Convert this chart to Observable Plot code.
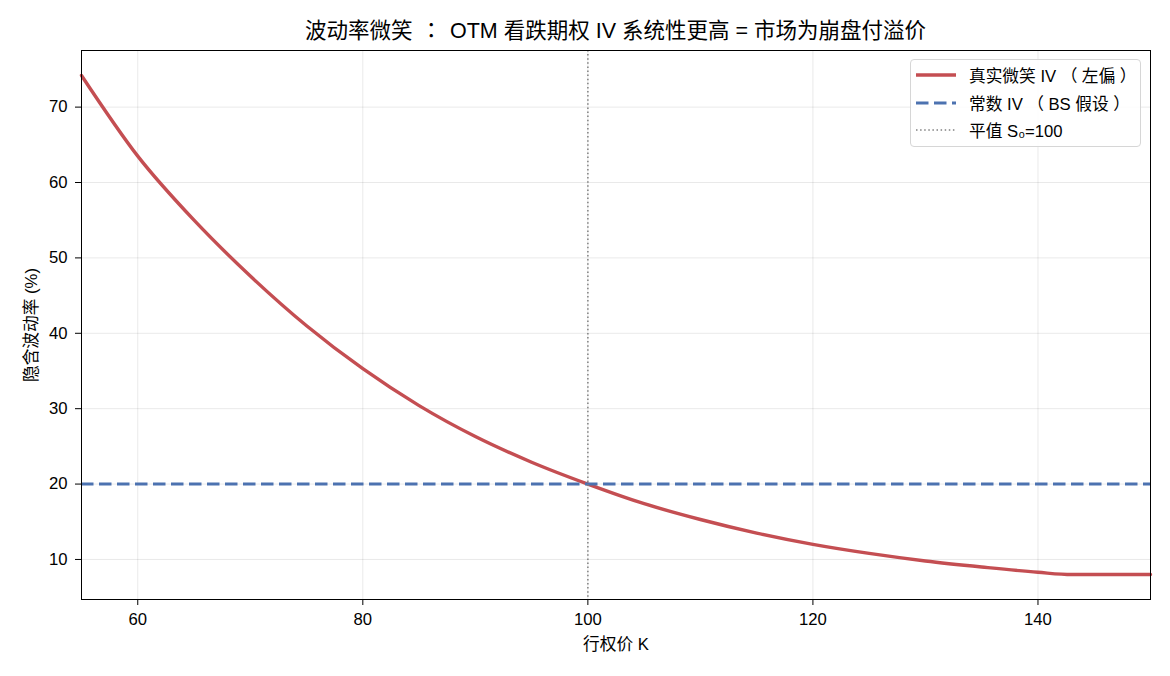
<!DOCTYPE html>
<html>
<head>
<meta charset="utf-8">
<script src="https://cdn.jsdelivr.net/npm/d3@7"></script>
<script src="https://cdn.jsdelivr.net/npm/@observablehq/plot@0.6"></script>
<style>
  body { margin: 0; background: #fff; font-family: "Liberation Sans", "Noto Sans CJK TC", sans-serif; color: #000; }
  #wrap { position: relative; width: 1170px; height: 676px; }
  #title { box-sizing: border-box; height: 49px; width: 1150px; padding-left: 81px; padding-top: 21px;
           text-align: center; font-size: 21.5px; line-height: 1; white-space: nowrap; }
  #title .p { margin: 0 8px; }
  #legend { position: absolute; left: 910px; top: 59px; width: 229px; height: 86px;
            border: 1px solid #d6d6d6; border-radius: 4px; background: rgba(255,255,255,0.85); font-size: 16.7px; }
  #legend .p { margin: 0 4.5px; }
  .row { position: absolute; left: 0; height: 20px; display: flex; align-items: center; white-space: nowrap; }
  .row svg { margin-left: 5px; margin-right: 13px; }
</style>
</head>
<body>
<div id="wrap">
  <div id="title"></div>
  <div id="chart"></div>
  <div id="legend"></div>
</div>
<script>
// Strike grid and implied volatility read along the smile (percent)
const strikes  = [55, 60, 65, 70, 75, 80, 85, 90, 95, 100, 105, 110, 115, 120, 125, 130, 135, 140, 143, 145, 150];
const smileIV  = [74.2, 63.5, 55.0, 47.6, 41.0, 35.3, 30.4, 26.3, 22.9, 20.0, 17.4, 15.3, 13.5, 12.0, 10.8, 9.8, 9.0, 8.3, 8.0, 8.0, 8.0];
const flatIV   = [20];      // Black–Scholes constant volatility
const atmStrike = [100];    // spot S0

const xTicks = [60, 80, 100, 120, 140];
const yTicks = [10, 20, 30, 40, 50, 60, 70];

const titleText = "波动率微笑：OTM 看跌期权 IV 系统性更高 = 市场为崩盘付溢价";
const xLabel = "行权价 K";
const yLabel = "隐含波动率 (%)";
const legendLabels = ["真实微笑 IV（左偏）", "常数 IV（BS 假设）", "平值 S₀=100"];

const RED = "#C44E52", BLUE = "#4C72B0", GREY = "#808080";
const FONT = '"Liberation Sans", "Noto Sans CJK TC", sans-serif';
const FS = 16.7;

const smile = strikes.map((k, i) => ({K: k, iv: smileIV[i]}));

// full-width punctuation gets a little breathing room on both sides
const spacedPunct = s => s.replace(/([（）：])/g, '<span class="p">$1</span>');

document.getElementById("title").innerHTML = spacedPunct(titleText);

const chart = Plot.plot({
  width: 1170,
  height: 627,
  marginTop: 1,
  marginLeft: 81,
  marginRight: 20,
  marginBottom: 77,
  style: {fontFamily: FONT, fontSize: FS + "px", color: "#000", background: "#fff"},
  x: {domain: [55, 150]},
  y: {domain: [4.69, 77.51]},
  marks: [
    Plot.gridX(xTicks, {stroke: "#000", strokeOpacity: 0.085}),
    Plot.gridY(yTicks, {stroke: "#000", strokeOpacity: 0.085}),
    Plot.line(smile, {x: "K", y: "iv", stroke: RED, strokeWidth: 3.4, curve: "monotone-x"}),
    Plot.ruleY(flatIV, {stroke: BLUE, strokeWidth: 3, strokeDasharray: "12.5,5.5"}),
    Plot.ruleX(atmStrike, {stroke: GREY, strokeWidth: 1.5, strokeDasharray: "1.5,2.6"}),
    Plot.frame({stroke: "#000", strokeWidth: 1}),
    Plot.axisX(xTicks, {tickSize: 6, tickPadding: 8, label: null, fontSize: FS}),
    Plot.axisY(yTicks, {tickSize: 6, tickPadding: 8, label: null, fontSize: FS}),
    Plot.text([xLabel], {frameAnchor: "bottom", lineAnchor: "middle", textAnchor: "middle", dy: 45, fontSize: FS}),
    Plot.text([yLabel], {frameAnchor: "left", lineAnchor: "middle", textAnchor: "middle", rotate: -90, dx: -50, fontSize: FS})
  ]
});
document.getElementById("chart").appendChild(chart);

// Legend drawn as an overlay box in the upper-right corner
const legend = document.getElementById("legend");
const samples = [
  {stroke: RED, width: 3.4, dash: null},
  {stroke: BLUE, width: 3, dash: "12.5,5.5"},
  {stroke: GREY, width: 1.5, dash: "1.5,2.6"}
];
const rowTops = [5, 32.5, 60];
legendLabels.forEach((lab, i) => {
  const row = document.createElement("div");
  row.className = "row";
  row.style.top = rowTops[i] + "px";
  const s = samples[i];
  row.innerHTML = `<svg width="40" height="10"><line x1="0" x2="40" y1="5" y2="5" stroke="${s.stroke}" stroke-width="${s.width}" ${s.dash ? `stroke-dasharray="${s.dash}"` : ""}/></svg><span>${spacedPunct(lab)}</span>`;
  legend.appendChild(row);
});
</script>
</body>
</html>
